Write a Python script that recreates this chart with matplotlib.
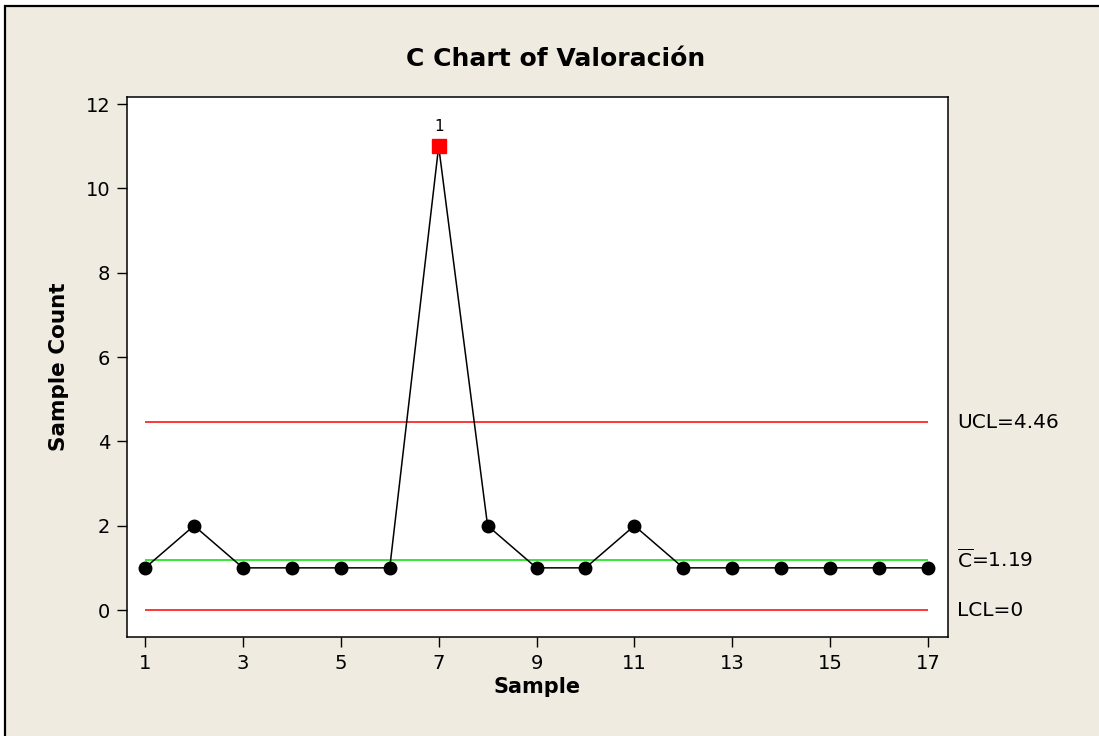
import matplotlib
matplotlib.use("Agg")
import matplotlib.pyplot as plt
from matplotlib.patches import Rectangle

# conteo por muestra
samples = list(range(1, 18))
counts = [1, 2, 1, 1, 1, 1, 11, 2, 1, 1, 2, 1, 1, 1, 1, 1, 1]

# límites de control
c_bar = 1.19
ucl = 4.46
lcl = 0
out_of_control = [7]  # muestras que fallan la prueba 1
xticks = [1, 3, 5, 7, 9, 11, 13, 15, 17]
yticks = [0, 2, 4, 6, 8, 10, 12]

plt.rcParams["font.family"] = ["DejaVu Sans"]
plt.rcParams["mathtext.fontset"] = "dejavusans"

W, H = 1099, 736
fig = plt.figure(figsize=(W / 100, H / 100), dpi=100, facecolor="white")

# marco de fondo beige
fig.patches.append(Rectangle((5 / W, -0.1), 2.0, 1 - 6 / H + 0.1,
                             transform=fig.transFigure, facecolor="#f0ebe0",
                             edgecolor="black", linewidth=1.6, zorder=-10))

ax = fig.add_axes([127 / W, 1 - 637 / H, (948 - 127) / W, (637 - 97) / H])
ax.set_facecolor("white")

ax.hlines([ucl, lcl], samples[0], samples[-1], colors="#ff0000", linewidth=1.1, zorder=2)
ax.hlines(c_bar, samples[0], samples[-1], colors="#00e000", linewidth=1.1, zorder=2)

ax.plot(samples, counts, color="black", linewidth=1.1, marker="o",
        markersize=9, markerfacecolor="black", zorder=3)

for s in out_of_control:
    v = counts[s - 1]
    ax.plot([s], [v], marker="s", markersize=10, color="#ff0000",
            markeredgecolor="#ff0000", linestyle="none", zorder=4)
    ax.annotate("1", (s, v), xytext=(0, 9), textcoords="offset points",
                ha="center", va="bottom", fontsize=11)

ax.set_xlim(0.63, 17.41)
ax.set_ylim(-0.64, 12.17)
ax.set_xticks(xticks)
ax.set_yticks(yticks)
ax.tick_params(direction="out", length=7, width=1, labelsize=14, pad=5,
               top=False, right=False)
for sp in ax.spines.values():
    sp.set_linewidth(1.1)

ax.set_xlabel("Sample", fontsize=15, fontweight="bold", labelpad=3)
ax.set_ylabel("Sample Count", fontsize=15.5, fontweight="bold", labelpad=12)
fig.text(556 / W, 1 - 59 / H, "C Chart of Valoración", ha="center", va="center",
         fontsize=18, fontweight="bold")

# etiquetas de los límites a la derecha
lbl_x = 957 / W
for val, txt in [(ucl, "UCL=4.46"), (c_bar, r"$\overline{\mathrm{C}}$=1.19"), (lcl, "LCL=0")]:
    y_fig = fig.transFigure.inverted().transform(ax.transData.transform((0, val)))[1]
    fig.text(lbl_x, y_fig, txt, ha="left", va="center", fontsize=14.5)

fig.savefig("out.png", dpi=100, facecolor=fig.get_facecolor())
